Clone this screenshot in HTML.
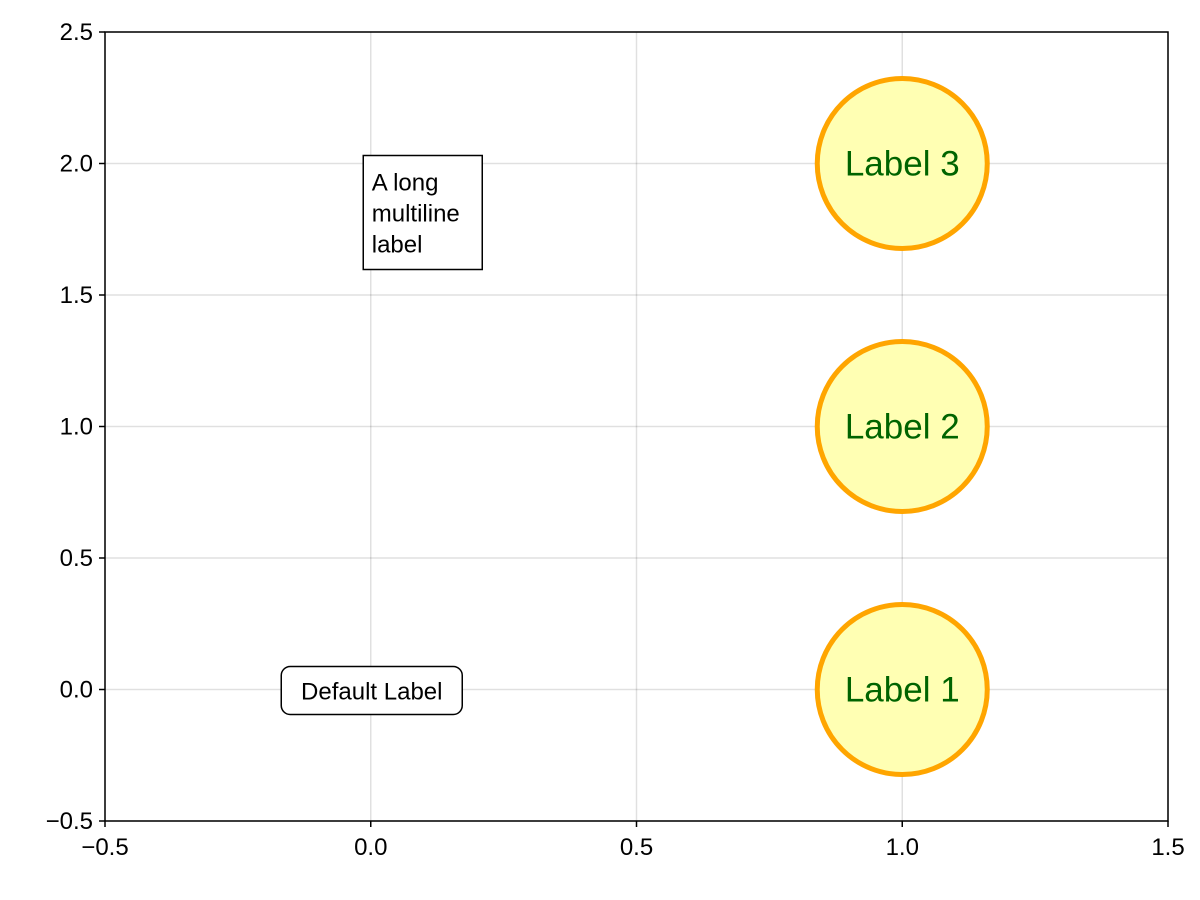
<!DOCTYPE html>
<html><head><meta charset="utf-8"><style>body{margin:0;background:#fff}svg{display:block}text{font-family:"Liberation Sans",sans-serif}</style></head>
<body>
<svg id="c" width="1200" height="900"></svg>
<script>
const xTicks=[-0.5,0.0,0.5,1.0,1.5];
const yTicks=[-0.5,0.0,0.5,1.0,1.5,2.0,2.5];
const xTickLabels=["−0.5","0.0","0.5","1.0","1.5"];
const yTickLabels=["−0.5","0.0","0.5","1.0","1.5","2.0","2.5"];
const circleX=[1,1,1];
const circleY=[0,1,2];
const circleLabels=["Label 1","Label 2","Label 3"];
const defaultLabelPos=[0,0];
const multiLabelPos=[0,2];
const multiLines=["A long","multiline","label"];
const X0=105,X1=1168,Y0=821,Y1=32;
const sx=v=>X0+(v+0.5)/2*(X1-X0);
const sy=v=>Y0-(v+0.5)/3*(Y0-Y1);
const svg=document.getElementById('c');const NS='http://www.w3.org/2000/svg';
function mk(t,a,p){const e=document.createElementNS(NS,t);for(const k in a)e.setAttribute(k,a[k]);(p||svg).appendChild(e);return e;}
xTicks.forEach((v,i)=>{
 const g=mk('line',{x1:sx(v),x2:sx(v),y1:Y1,y2:Y0,stroke:'#000','stroke-opacity':0.12,'stroke-width':1.5});
 
 const t=mk('line',{x1:sx(v),x2:sx(v),y1:Y0,y2:Y0+6,stroke:'#000','stroke-width':1.5});
 
 const l=mk('text',{x:sx(v),y:Y0+34,'text-anchor':'middle','font-size':24});l.textContent=xTickLabels[i];
 
});
yTicks.forEach((v,i)=>{
 const g=mk('line',{x1:X0,x2:X1,y1:sy(v),y2:sy(v),stroke:'#000','stroke-opacity':0.12,'stroke-width':1.5});
 
 const t=mk('line',{x1:X0-6,x2:X0,y1:sy(v),y2:sy(v),stroke:'#000','stroke-width':1.5});
 
 const l=mk('text',{x:X0-12,y:sy(v)+8,'text-anchor':'end','font-size':24});l.textContent=yTickLabels[i];
 
});
const fr=mk('rect',{x:X0,y:Y1,width:X1-X0,height:Y0-Y1,fill:'none',stroke:'#000','stroke-width':1.5});

circleX.forEach((v,i)=>{
 const c=mk('circle',{cx:sx(v),cy:sy(circleY[i]),r:85,fill:'#ffffb3',stroke:'#ffa500','stroke-width':5});
 
 const t=mk('text',{x:sx(v),y:sy(circleY[i])+12,'text-anchor':'middle','font-size':35,fill:'#006400'});t.textContent=circleLabels[i];
 
});
const dx=sx(defaultLabelPos[0]),dy=sy(defaultLabelPos[1]);
const db=mk('rect',{x:dx-89.5,y:dy-23,width:181,height:48,rx:9,fill:'#fff',stroke:'#000','stroke-width':1.5});

const dt=mk('text',{x:dx+1,y:dy+10,'text-anchor':'middle','font-size':24});dt.textContent="Default Label";

const mx=sx(multiLabelPos[0]),my=sy(multiLabelPos[1]);
const mb=mk('rect',{x:mx-7.5,y:my-8,width:119,height:114,fill:'#fff',stroke:'#000','stroke-width':1.5});

multiLines.forEach((s,i)=>{
 const t=mk('text',{x:mx+1,y:my+27+i*31,'font-size':24});t.textContent=s;
 
});
</script>
</body></html>
